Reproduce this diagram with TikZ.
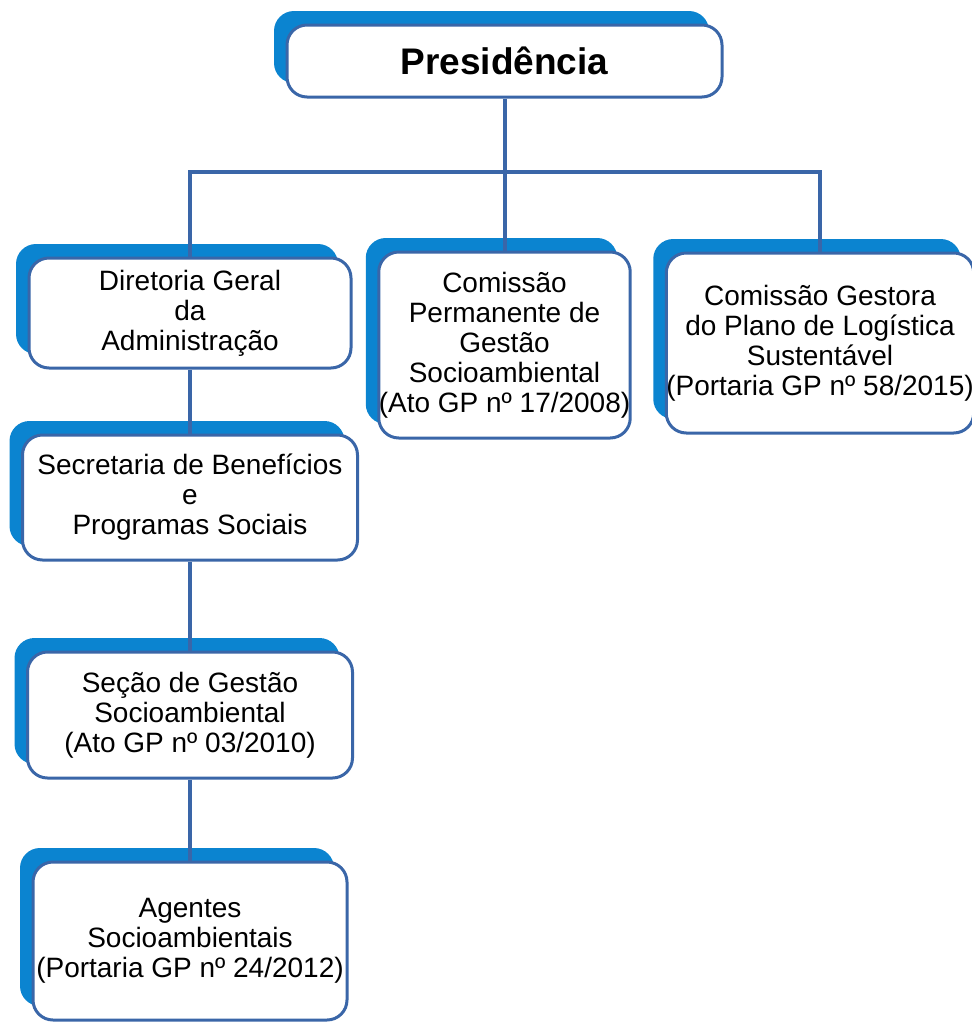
\documentclass[tikz,border=0pt]{standalone}
\usepackage{fontspec}
\setmainfont{Liberation Sans}
\usetikzlibrary{shadows}
\definecolor{shblue}{RGB}{11,132,208}
\definecolor{edgeblue}{RGB}{58,102,168}
\begin{document}
\begin{tikzpicture}[x=1pt,y=-1pt,
  orgbox/.style={draw=edgeblue, line width=3pt, fill=white, rounded corners=20pt,
    align=center, inner sep=0pt,
    font=\fontsize{28}{30}\selectfont,
    general shadow={fill=shblue, shadow xshift=-13pt, shadow yshift=14pt}},
  link/.style={draw=edgeblue, line width=4pt}]
\useasboundingbox (0,0) rectangle (972,1023);
\node[orgbox, minimum width=435pt, minimum height=72pt,
  font=\fontsize{37}{40}\selectfont\bfseries] (pres) at (504.5,61) {Presidência};
\node[orgbox, minimum width=322pt, minimum height=110pt] (dir) at (190,313)
  {Diretoria Geral\\da\\Administração};
\node[orgbox, minimum width=335pt, minimum height=125pt] (sec) at (190,497.5)
  {Secretaria de Benefícios\\e\\Programas Sociais};
\node[orgbox, minimum width=325pt, minimum height=126pt] (secao) at (190,715)
  {Seção de Gestão\\Socioambiental\\(Ato GP nº 03/2010)};
\node[orgbox, minimum width=314pt, minimum height=158pt] (agent) at (190,941)
  {Agentes\\Socioambientais\\(Portaria GP nº 24/2012)};
\node[orgbox, minimum width=250pt, minimum height=186pt] (cperm) at (504.5,345)
  {Comissão\\Permanente de\\Gestão\\Socioambiental\\(Ato GP nº 17/2008)};
\node[orgbox, minimum width=303pt, minimum height=180pt] (cgest) at (820,343)
  {Comissão Gestora\\do Plano de Logística\\Sustentável\\(Portaria GP nº 58/2015)};
\coordinate (bus) at (504.5,172);
\draw[link] (pres.south) -- (cperm.north);
\draw[link] (dir.north) |- (bus) -| (cgest.north);
\draw[link] (dir.south) -- (sec.north);
\draw[link] (sec.south) -- (secao.north);
\draw[link] (secao.south) -- (agent.north);
\end{tikzpicture}
\end{document}
